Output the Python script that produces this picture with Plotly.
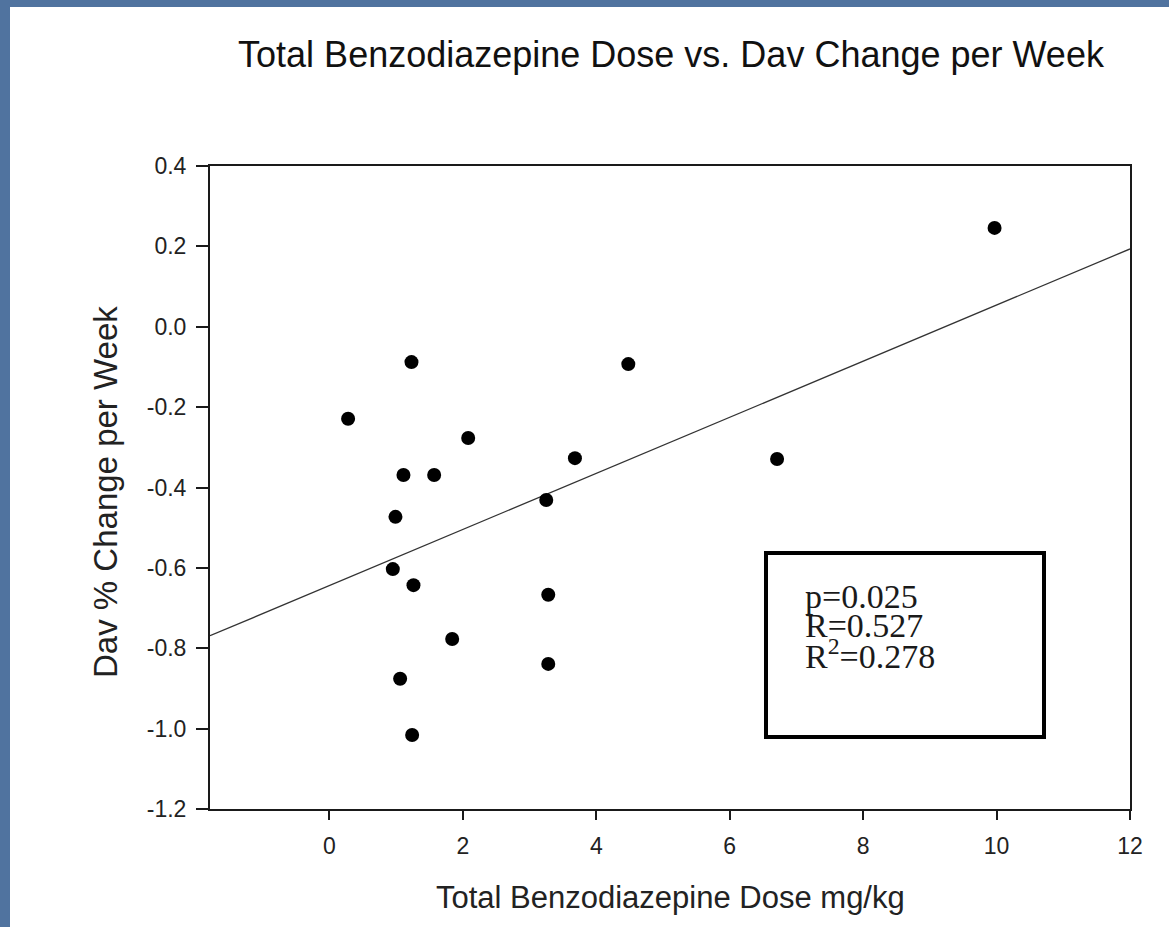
import plotly.graph_objects as go

# ---- data ----
dose = [9.97, 1.23, 0.28, 4.48, 2.08, 1.11, 1.57, 3.68, 6.71, 3.25,
        0.99, 0.95, 1.26, 3.28, 1.84, 3.28, 1.06, 1.24]
dav_change = [0.246, -0.088, -0.229, -0.093, -0.277, -0.369, -0.369, -0.327, -0.329, -0.431,
              -0.473, -0.603, -0.643, -0.667, -0.777, -0.839, -0.876, -1.016]
fit_slope = 0.0698
fit_intercept = -0.644

x_range = [-1.79, 12]
y_range = [-1.2, 0.4]
x_tickvals = [0, 2, 4, 6, 8, 10, 12]
x_ticktext = ["0", "2", "4", "6", "8", "10", "12"]
y_tickvals = [-1.2, -1.0, -0.8, -0.6, -0.4, -0.2, 0.0, 0.2, 0.4]
y_ticktext = ["-1.2", "-1.0", "-0.8", "-0.6", "-0.4", "-0.2", "0.0", "0.2", "0.4"]
stats_lines = ["p=0.025", "R=0.527", "R<sup>2</sup>=0.278"]

title_text = "Total Benzodiazepine Dose vs. Dav Change per Week"
x_title = "Total Benzodiazepine Dose mg/kg"
y_title = "Dav % Change per Week"

# ---- figure ----
W, H = 1169, 927
L, R, T, B = 210, 39, 166, 118
pw, ph = W - L - R, H - T - B

def px(xp):
    return (xp - L) / pw

def py(yp):
    return (H - B - yp) / ph

fig = go.Figure()

fit_x = list(x_range)
fit_y = [fit_slope * v + fit_intercept for v in fit_x]
fig.add_trace(go.Scatter(x=fit_x, y=fit_y, mode="lines",
                         line=dict(color="#333333", width=1.3),
                         hoverinfo="skip", showlegend=False))
fig.add_trace(go.Scatter(x=dose, y=dav_change, mode="markers",
                         marker=dict(color="black", size=14, line=dict(width=0)),
                         showlegend=False))

sans = "Liberation Sans, Arial, sans-serif"
serif = "Liberation Serif, Times New Roman, serif"

axis_common = dict(showline=True, linecolor="#1a1a1a", linewidth=2, mirror=True,
                   ticks="outside", tickcolor="#1a1a1a", tickwidth=2,
                   showgrid=False, zeroline=False,
                   tickfont=dict(family=sans, size=23, color="#222222"))

fig.update_xaxes(range=x_range, tickvals=x_tickvals, ticktext=x_ticktext,
                 ticklen=9, ticklabelstandoff=6, **axis_common)
fig.update_yaxes(range=y_range, tickvals=y_tickvals, ticktext=y_ticktext,
                 ticklen=12, ticklabelstandoff=5, **axis_common)

shapes = [
    # white slide panel
    dict(type="rect", xref="paper", yref="paper",
         x0=px(10), x1=px(1200), y0=py(960), y1=py(7),
         fillcolor="white", line=dict(width=0), layer="below"),
    # stats box
    dict(type="rect", xref="paper", yref="paper",
         x0=px(766), x1=px(1044), y0=py(737), y1=py(553),
         fillcolor="rgba(0,0,0,0)", line=dict(color="black", width=4)),
]

annotations = [
    dict(text=x_title, xref="paper", yref="paper", x=px(670), y=py(897),
         showarrow=False, xanchor="center", yanchor="middle",
         font=dict(family=sans, size=31, color="#222222")),
    dict(text=y_title, xref="paper", yref="paper", x=px(105), y=py(492),
         showarrow=False, xanchor="center", yanchor="middle", textangle=-90,
         font=dict(family=sans, size=33, color="#222222")),
]
for line_text, yc in zip(stats_lines, [596.5, 625, 654]):
    annotations.append(dict(text=line_text, xref="paper", yref="paper",
                            x=px(804), y=py(yc), showarrow=False,
                            xanchor="left", yanchor="middle", borderpad=0,
                            font=dict(family=serif, size=34, color="#1a1a1a")))

fig.update_layout(
    width=W, height=H,
    margin=dict(l=L, r=R, t=T, b=B),
    paper_bgcolor="#50739f",
    plot_bgcolor="white",
    title=dict(text=title_text, x=px(671), xref="paper", xanchor="center",
               y=1 - 54 / H, yref="container", yanchor="middle",
               font=dict(family=sans, size=36, color="#111111")),
    shapes=shapes,
    annotations=annotations,
    showlegend=False,
)

fig.write_html("out.html")
